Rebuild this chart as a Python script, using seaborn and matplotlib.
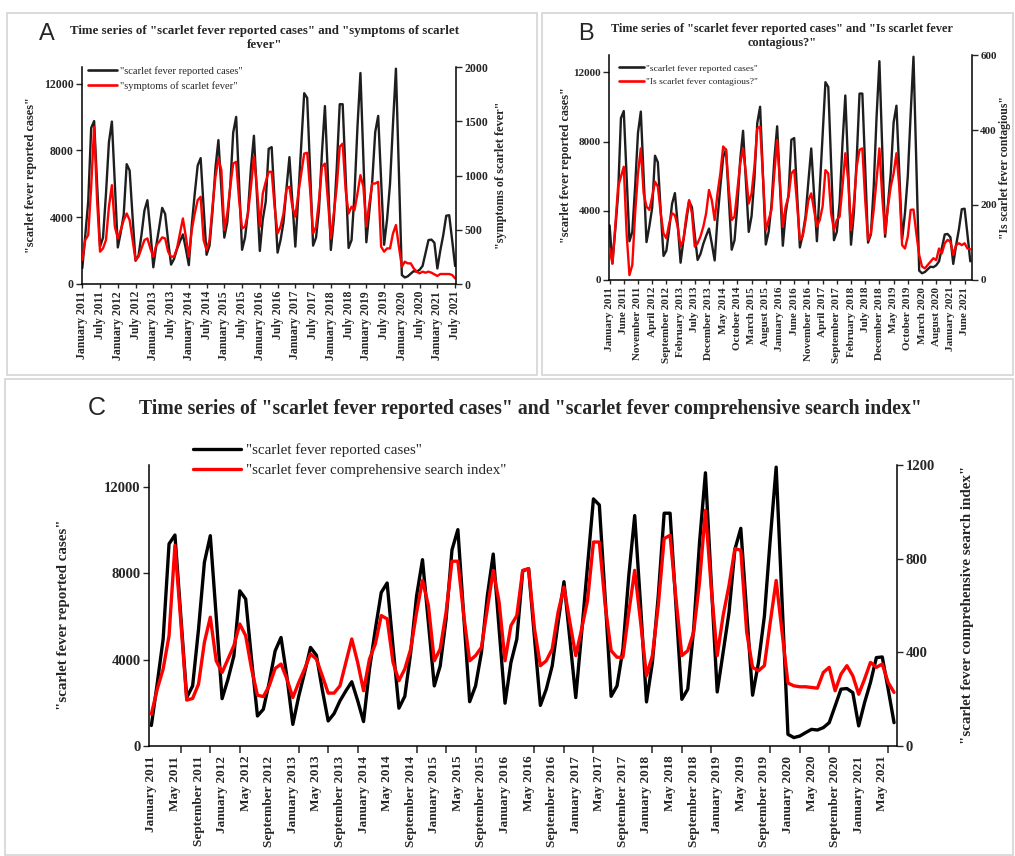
import matplotlib
matplotlib.use("Agg")
import matplotlib.pyplot as plt
from matplotlib.lines import Line2D
from matplotlib.patches import Rectangle
from matplotlib.ticker import FixedLocator
import numpy as np
import pandas as pd
import seaborn as sns

MONTHS = ["January", "February", "March", "April", "May", "June", "July",
          "August", "September", "October", "November", "December"]

# Monthly scarlet fever reported cases, January 2011 - July 2021
reported_cases = [
    950, 2900, 4950, 9350, 9760, 6000, 2240, 2780, 5400, 8500,
    9730, 6000, 2190, 3090, 4170, 7180, 6800, 4000, 1390, 1700,
    2940, 4400, 5020, 3200, 1000, 2300, 3400, 4560, 4200, 2600,
    1160, 1500, 2090, 2550, 2970, 2100, 1130, 3550, 5400, 7100,
    7540, 4600, 1750, 2300, 4330, 6950, 8620, 5700, 2780, 3700,
    5870, 9070, 10010, 6000, 2050, 2780, 4330, 6950, 8880, 5400,
    1980, 3860, 4940, 8100, 8200, 5000, 1880, 2630, 3700, 5700,
    7600, 4940, 2240, 5250, 8340, 11430, 11150, 6800, 2300, 2780,
    4480, 7880, 10660, 6490, 2040, 3860, 6950, 10770, 10770, 6490,
    2160, 2630, 5400, 9420, 12640, 7500, 2500, 4330, 6180, 9100,
    10070, 6180, 2350, 3860, 6000, 9580, 12900, 6700, 540, 390,
    460, 620, 770, 740, 850, 1080, 1850, 2630, 2660, 2470,
    930, 2010, 2940, 4090, 4120, 2630, 1080,
]

# Search index for "symptoms of scarlet fever"
symptoms_index = [
    221, 405, 451, 896, 1448, 773, 298, 328, 405, 712,
    911, 528, 420, 497, 589, 650, 589, 405, 221, 252,
    328, 405, 420, 328, 252, 359, 390, 429, 420, 298,
    252, 252, 328, 466, 604, 436, 252, 497, 650, 773,
    804, 405, 313, 405, 712, 988, 1156, 1049, 497, 650,
    896, 1110, 1126, 773, 512, 528, 650, 896, 1172, 896,
    528, 834, 942, 1034, 1034, 712, 466, 528, 650, 880,
    896, 712, 620, 834, 1018, 1202, 1209, 865, 466, 528,
    773, 1080, 1110, 773, 420, 650, 896, 1264, 1294, 865,
    650, 712, 681, 834, 1003, 896, 528, 742, 926, 926,
    942, 344, 298, 328, 328, 466, 543, 344, 160, 206,
    190, 190, 144, 114, 98, 114, 104, 114, 104, 89,
    74, 92, 92, 92, 92, 83, 52,
]

# Reported cases as tabulated alongside the "Is scarlet fever contagious?" series
cases_b_first = [3160]
reported_cases_b = cases_b_first + reported_cases

# Search index for "Is scarlet fever contagious?"
contagious_index = [
    84, 44, 142, 249, 276, 302, 124, 13, 40, 178,
    284, 351, 231, 196, 187, 222, 262, 249, 178, 124,
    111, 151, 178, 173, 142, 89, 107, 169, 213, 178,
    89, 98, 116, 142, 178, 240, 213, 160, 231, 284,
    356, 347, 240, 160, 169, 240, 311, 351, 284, 204,
    231, 302, 404, 409, 276, 133, 160, 187, 284, 373,
    258, 142, 196, 222, 284, 293, 204, 107, 116, 160,
    213, 231, 187, 142, 160, 196, 293, 284, 178, 133,
    160, 169, 249, 338, 267, 133, 204, 302, 347, 351,
    213, 107, 124, 187, 267, 351, 222, 124, 196, 249,
    284, 338, 249, 93, 84, 116, 187, 188, 124, 67,
    36, 31, 40, 49, 58, 53, 84, 71, 98, 107,
    102, 67, 93, 98, 93, 98, 84, 82,
]

# Comprehensive search index for scarlet fever
comprehensive_index = [
    136, 243, 329, 471, 857, 530, 196, 203, 264, 443,
    550, 364, 314, 371, 429, 521, 471, 329, 217, 211,
    257, 331, 350, 286, 207, 271, 329, 393, 371, 300,
    226, 226, 257, 357, 457, 357, 236, 371, 436, 557,
    543, 357, 279, 329, 414, 571, 707, 600, 364, 414,
    571, 789, 789, 557, 364, 386, 421, 586, 750, 614,
    364, 514, 557, 750, 757, 500, 343, 364, 414, 571,
    679, 529, 386, 500, 621, 871, 871, 600, 407, 379,
    379, 571, 750, 529, 300, 386, 600, 886, 900, 629,
    386, 407, 486, 700, 1007, 670, 386, 557, 686, 843,
    836, 486, 336, 321, 343, 529, 707, 486, 269, 257,
    253, 253, 250, 247, 314, 336, 236, 307, 343, 300,
    221, 286, 357, 336, 350, 271, 229,
]

CASES_LABEL = '"scarlet fever reported cases"'
SERIF = ["Liberation Serif", "DejaVu Serif"]
SANS = ["Liberation Sans", "DejaVu Sans"]
RED = "#ff0000"

sns.set_style("white")
plt.rcParams["font.family"] = SERIF
plt.rcParams["font.weight"] = "bold"
plt.rcParams["axes.linewidth"] = 1.1

W, H = 1015, 856
fig = plt.figure(figsize=(W / 100, H / 100), dpi=100)


def fx(px):
    return px / W


def fy(py):
    return 1 - py / H


def month_label(i):
    return f"{MONTHS[i % 12]} {2011 + i // 12}"


def draw_panel(rect, cases, index, xlim, right_max, right_step, label_every,
               xfs, yfs, lw, black, minor_every=None):
    ax = fig.add_axes(rect)
    n = len(cases)
    months = np.arange(n)
    df = pd.DataFrame({"month": months, "cases": cases, "index": index})
    sns.lineplot(data=df, x="month", y="cases", ax=ax, color=black, lw=lw,
                 legend=False)
    ax2 = ax.twinx()
    sns.lineplot(data=df, x="month", y="index", ax=ax2, color=RED, lw=lw,
                 legend=False)
    for a in (ax, ax2):
        a.set_xlabel("")
        a.set_ylabel("")
        a.spines["top"].set_visible(False)
        for s in ("left", "right", "bottom"):
            a.spines[s].set_color("black")
    ax.spines["right"].set_visible(False)
    ax2.spines["left"].set_visible(False)
    ax2.spines["bottom"].set_visible(False)

    ax.set_xlim(*xlim)
    ax.set_ylim(0, 13000)
    ax.set_yticks([0, 4000, 8000, 12000])
    ax2.set_ylim(0, right_max)
    ax2.set_yticks(np.arange(0, right_max + 1, right_step))

    ticks = list(range(0, n, label_every))
    ax.set_xticks(ticks)
    ax.set_xticklabels([month_label(i) for i in ticks], rotation=90,
                       fontsize=xfs, fontweight="bold")
    if minor_every:
        ax.xaxis.set_minor_locator(FixedLocator(list(range(0, n, minor_every))))
        ax.tick_params(axis="x", which="major", length=0, pad=7)
        ax.tick_params(axis="x", which="minor", length=5, width=1.1,
                       direction="out", bottom=True)
    else:
        ax.tick_params(axis="x", which="major", length=3, width=1, pad=2,
                       direction="out", bottom=True)
    ax.tick_params(axis="y", length=4, width=1, direction="out", left=True,
                   labelsize=yfs, pad=2)
    ax2.tick_params(axis="y", length=4, width=1, direction="out", right=True,
                    labelsize=yfs, pad=2)
    for t in ax.get_yticklabels() + ax2.get_yticklabels():
        t.set_fontweight("bold")
    return ax, ax2


def legend(ax, labels, colors, anchor, fs, hl, spacing, lw):
    handles = [Line2D([], [], color=c, lw=lw) for c in colors]
    ax.legend(handles, labels, loc="upper left", bbox_to_anchor=anchor,
              bbox_transform=fig.transFigure, frameon=False, borderpad=0,
              borderaxespad=0, handlelength=hl, handletextpad=0.3,
              labelspacing=spacing,
              prop={"family": SERIF, "weight": "normal", "size": fs})


# Panel frames
for (x0, y0, x1, y1) in [(7, 13, 537, 375), (542, 13, 1013, 375),
                         (5, 379, 1013, 855)]:
    fig.patches.append(Rectangle((fx(x0), fy(y1)), fx(x1) - fx(x0),
                                 fy(y0) - fy(y1), transform=fig.transFigure,
                                 fill=False, ec="#d4d4d4", lw=1.2))

# ---- Panel A ----
axA, axA2 = draw_panel([fx(82), fy(284), fx(456) - fx(82), fy(67) - fy(284)],
                       reported_cases, symptoms_index, (-0.1, 126.3),
                       2000, 500, 6, 8.5, 8.5, 1.7, "#1e1e1e")
legend(axA2, [CASES_LABEL, '"symptoms of scarlet fever"'],
       ["#1e1e1e", RED], (fx(88), fy(66)), 7.6, 2.7, 0.5, 1.9)
fig.text(fx(265), fy(38), 'Time series of "scarlet fever reported cases" and "symptoms of scarlet\nfever"',
         ha="center", va="center", fontsize=9.3, fontweight="bold",
         linespacing=1.15)
fig.text(fx(47), fy(34), "A", ha="center", va="center", fontsize=17,
         family=SANS, fontweight="normal")
fig.text(fx(31), fy(175), CASES_LABEL, rotation=90, ha="center",
         va="center", fontsize=8.8, fontweight="bold")
fig.text(fx(501), fy(175), '"symptoms of scarlet fever"', rotation=90,
         ha="center", va="center", fontsize=8.8, fontweight="bold")

# ---- Panel B ----
axB, axB2 = draw_panel([fx(609), fy(280), fx(972) - fx(609), fy(55) - fy(280)],
                       reported_cases_b, contagious_index, (-0.2, 127.6),
                       600, 200, 5, 8, 8, 1.7, "#1e1e1e")
legend(axB2, [CASES_LABEL, '"Is scarlet fever contagious?"'],
       ["#1e1e1e", RED], (fx(619), fy(64)), 6.8, 2.6, 0.55, 1.9)
fig.text(fx(782), fy(36), 'Time series of "scarlet fever reported cases" and "Is scarlet fever\ncontagious?"',
         ha="center", va="center", fontsize=8.8, fontweight="bold",
         linespacing=1.15)
fig.text(fx(586), fy(34), "B", ha="center", va="center", fontsize=17,
         family=SANS, fontweight="normal")
fig.text(fx(566), fy(165), CASES_LABEL, rotation=90, ha="center",
         va="center", fontsize=8.8, fontweight="bold")
fig.text(fx(1005), fy(168), '"Is scarlet fever contagious"', rotation=90,
         ha="center", va="center", fontsize=8.5, fontweight="bold")

# ---- Panel C ----
axC, axC2 = draw_panel([fx(149), fy(746), fx(897) - fx(149), fy(465) - fy(746)],
                       reported_cases, comprehensive_index, (-0.4, 126.5),
                       1200, 400, 4, 9.5, 10.5, 2.4, "#000000",
                       minor_every=5)
legend(axC2, [CASES_LABEL, '"scarlet fever comprehensive search index"'],
       ["#000000", RED], (fx(193), fy(443)), 10.8, 3.2, 0.42, 2.4)
fig.text(fx(530), fy(409), 'Time series of "scarlet fever reported cases" and "scarlet fever comprehensive search index"',
         ha="center", va="center", fontsize=14.2, fontweight="bold")
fig.text(fx(97), fy(408), "C", ha="center", va="center", fontsize=18,
         family=SANS, fontweight="normal")
fig.text(fx(64), fy(615), CASES_LABEL, rotation=90, ha="center",
         va="center", fontsize=10.8, fontweight="bold")
fig.text(fx(968), fy(605), '"scarlet fever comprehensive search index"',
         rotation=90, ha="center", va="center", fontsize=10.8,
         fontweight="bold")

fig.savefig("out.png", dpi=100)
